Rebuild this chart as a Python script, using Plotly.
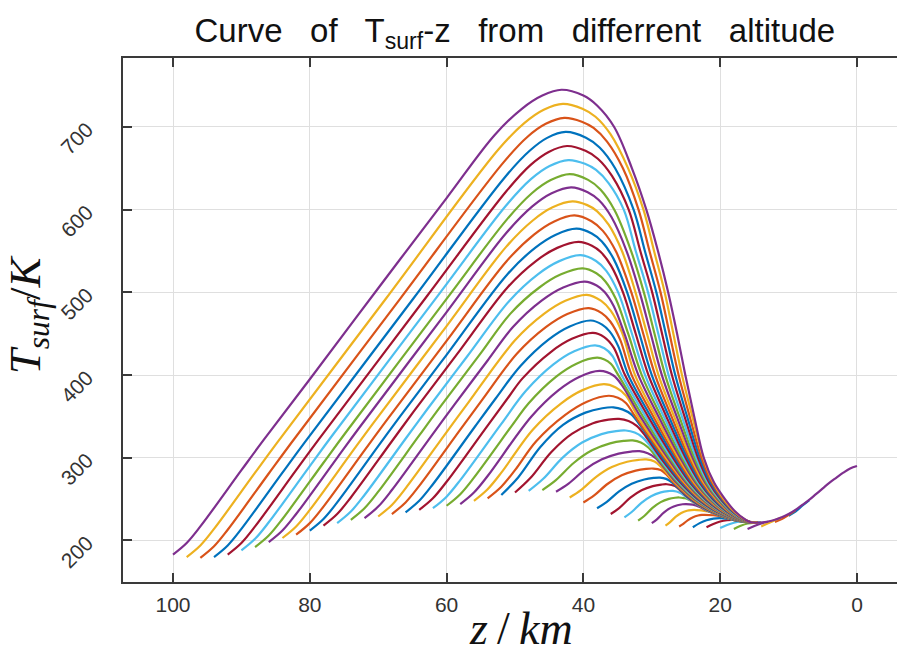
import plotly.graph_objects as go

# start altitude of every curve (km), outermost first
start_alt = [100, 98, 96, 94, 92, 90, 88, 86, 84, 82, 80, 78, 76, 74, 72, 70, 68, 66, 64, 62,
             60, 58, 56, 54, 52, 50, 48, 46, 44, 42, 40, 38, 36, 34, 32, 30, 28, 26, 24, 22,
             20, 18, 16, 14, 12, 10]

# altitude samples (km)
curve_z = [
    [100, 98, 96, 90, 86.8, 80, 70, 60, 53, 49, 46, 43.2, 40, 38, 35.5, 32.9, 30.8, 29.1, 27.6, 26.3, 25.1, 23.8, 22.4, 20.9, 19.3, 17.8, 16.3, 15.5, 14.5, 13, 12, 11, 10, 9, 8, 7, 6, 5, 4, 3, 2, 1, 0],
    [98, 96, 94, 88, 84.8, 68.8, 52.4, 48.6, 45.8, 43, 40.14, 38.23, 36.04, 33.46, 31.22, 29.67, 28.11, 26.85, 25.59, 24.08, 22.46, 21.0, 19.46, 17.91, 16.35, 15.5, 14.5],
    [96, 94, 92, 86, 82.8, 66.8, 51.8, 48.2, 45.5, 42.8, 40.23, 38.51, 36.54, 34.22, 31.94, 30.34, 28.72, 27.4, 26.08, 24.46, 22.72, 21.2, 19.62, 18.02, 16.4, 15.5, 14.5],
    [94, 92, 90, 84, 80.8, 64.8, 51.5, 47.9, 45.3, 42.6, 39.62, 37.63, 35.34, 32.66, 31.01, 29.33, 27.95, 26.57, 24.84, 22.98, 21.4, 19.78, 18.13, 16.45, 15.5, 14.5],
    [92, 90, 88, 82, 78.8, 62.8, 51.3, 47.75, 45.07, 42.4, 39.69, 37.89, 35.82, 33.38, 31.68, 29.94, 28.5, 27.06, 25.22, 23.24, 21.6, 19.94, 18.24, 16.5, 15.5, 14.5],
    [90, 88, 86, 80, 76.8, 60.8, 51.3, 47.67, 44.94, 42.2, 39.77, 38.15, 36.29, 34.1, 32.35, 30.55, 29.05, 27.55, 25.6, 23.5, 21.8, 20.1, 18.35, 16.55, 15.5, 14.5],
    [88, 86, 84, 78, 74.8, 60, 51.2, 47.54, 44.77, 42, 39.31, 37.51, 35.44, 33.02, 31.16, 29.6, 28.04, 25.98, 23.76, 22.0, 20.26, 18.46, 16.6, 15.5, 14.5],
    [86, 84, 82, 76, 72.8, 60, 51.25, 47.47, 44.64, 41.8, 39.37, 37.75, 35.88, 33.69, 31.77, 30.15, 28.53, 26.36, 24.02, 22.2, 20.42, 18.57, 16.65, 15.5, 14.5],
    [84, 82, 80, 74, 70.8, 60, 51.3, 47.4, 44.5, 41.6, 39.43, 37.98, 36.31, 34.36, 32.38, 30.7, 29.02, 26.74, 24.28, 22.4, 20.58, 18.68, 16.7, 15.5, 14.5],
    [82, 80, 78, 72, 68.8, 60, 51.2, 47.22, 44.26, 41.3, 38.81, 37.15, 35.23, 32.99, 31.25, 29.51, 27.12, 24.54, 22.6, 20.74, 18.79, 16.75, 15.5, 14.5],
    [80, 78, 76, 70, 66.8, 60, 51.1, 47.06, 44.03, 41, 38.78, 37.3, 35.6, 33.6, 31.8, 30.0, 27.5, 24.8, 22.8, 20.9, 18.9, 16.8, 15.5, 14.5],
    [78, 76, 74, 68, 64.8, 58, 51.1, 46.94, 43.82, 40.7, 38.75, 37.46, 35.96, 34.21, 32.35, 30.49, 27.88, 25.06, 23.0, 21.06, 19.01, 16.85, 15.5, 14.5],
    [76, 74, 72, 66, 62.8, 57, 50.8, 46.66, 43.53, 40.4, 38.15, 36.65, 34.93, 32.9, 30.98, 28.26, 25.32, 23.2, 21.22, 19.12, 16.9, 15.5, 14.5],
    [74, 72, 70, 64, 60.8, 55, 50.7, 46.44, 43.27, 40.1, 38.1, 36.78, 35.25, 33.45, 31.47, 28.64, 25.58, 23.4, 21.38, 19.23, 16.95, 15.5, 14.5],
    [72, 70, 68, 62, 58.8, 54, 50.3, 46.11, 42.95, 39.8, 38.06, 36.9, 35.57, 34.0, 31.96, 29.02, 25.84, 23.6, 21.54, 19.34, 17.0, 15.5, 14.5],
    [70, 68, 66, 60, 56.8, 50, 45.77, 42.64, 39.5, 37.39, 35.98, 34.35, 32.45, 29.4, 26.1, 23.8, 21.7, 19.45, 17.05, 15.5, 14.5],
    [68, 66, 64, 58, 54.8, 49.7, 45.49, 42.35, 39.2, 37.32, 36.07, 34.63, 32.94, 29.78, 26.36, 24.0, 21.86, 19.56, 17.1, 15.5, 14.5],
    [66, 64, 62, 56, 52.8, 49.2, 45.1, 42, 38.9, 37.26, 36.17, 34.91, 33.43, 30.16, 26.62, 24.2, 22.02, 19.67, 17.15, 15.5, 14.5],
    [64, 62, 60, 54, 50.8, 48.9, 44.77, 41.68, 38.6, 36.96, 35.56, 33.92, 30.54, 26.88, 24.4, 22.18, 19.78, 17.2, 15.5, 14.5],
    [62, 60, 58, 52, 48.4, 44.38, 41.34, 38.3, 36.94, 35.77, 34.41, 30.92, 27.14, 24.6, 22.34, 19.89, 17.25, 15.5, 14.5],
    [60, 58, 56, 50, 48, 44.02, 41.01, 38, 36.92, 35.99, 34.9, 31.3, 27.4, 24.8, 22.5, 20.0, 17.3, 15.5, 14.5],
    [58, 56, 54, 47.6, 43.62, 40.61, 37.6, 35.6, 34.2, 31.68, 27.66, 25.0, 22.66, 20.11, 17.35, 15.5, 14.5],
    [56, 54, 52, 47.4, 43.24, 40.12, 37.0, 35.27, 33.79, 32.06, 27.92, 25.2, 22.82, 20.22, 17.4, 15.5, 14.5],
    [54, 52, 50, 46.9, 42.65, 39.48, 36.3, 34.95, 33.79, 32.44, 28.18, 25.4, 22.98, 20.33, 17.45, 15.5, 14.5],
    [52, 49.54, 46.26, 42.98, 39.7, 37.24, 35.6, 34.3, 33.0, 31.6, 30.0, 28.44, 25.6, 23.14, 20.44, 17.5, 15.5, 14.5],
    [50, 47.72, 44.68, 41.64, 38.6, 36.32, 34.8, 33.4, 32.2, 30.9, 28.7, 25.8, 23.3, 20.55, 17.55, 15.5, 14.5],
    [48, 45.87, 43.03, 40.19, 37.35, 35.22, 33.8, 32.5, 31.4, 30.3, 28.96, 26.0, 23.46, 20.66, 17.6, 15.5, 14.5],
    [46, 44.02, 41.38, 38.74, 36.1, 34.12, 32.8, 31.6, 30.6, 29.22, 26.2, 23.62, 20.77, 17.65, 15.5, 14.5],
    [44, 42.17, 39.73, 37.29, 34.85, 33.02, 31.8, 30.6, 29.48, 28.1, 26.4, 23.78, 20.88, 17.7, 15.5, 14.5],
    [42, 40.32, 38.08, 35.84, 33.6, 31.92, 30.8, 29.6, 28.6, 26.6, 23.94, 20.99, 17.75, 15.5, 14.5],
    [40, 38.47, 36.43, 34.39, 32.35, 30.82, 29.8, 28.7, 27.9, 26.8, 24.1, 21.1, 17.8, 15.5, 14.5],
    [38, 36.62, 34.78, 32.94, 31.1, 29.72, 28.8, 27.9, 27.0, 24.26, 21.21, 17.85, 15.5, 14.5],
    [36, 34.77, 33.13, 31.49, 29.85, 28.62, 27.8, 26.6, 25.7, 24.42, 21.32, 17.9, 15.5, 14.5],
    [34, 32.94, 31.52, 30.1, 28.68, 27.61, 26.9, 25.9, 25.2, 24.58, 21.43, 17.95, 15.5, 14.5],
    [32, 31.1, 29.9, 28.7, 27.5, 26.6, 26, 25.3, 24.74, 21.54, 18.0, 15.5, 14.5],
    [30, 29.25, 28.25, 27.25, 26.25, 25.5, 25, 24, 23, 21.65, 18.05, 15.5, 14.5],
    [28, 27.37, 26.53, 25.69, 24.85, 24.22, 23.8, 22.8, 21.76, 18.1, 15.5, 14.5],
    [26, 25.45, 24.71, 23.97, 23.23, 22.67, 22.3, 21, 19.5, 18.15, 15.5, 14.5],
    [24, 23, 22, 21, 20, 19, 18, 17, 16, 15, 14.5],
    [22, 21, 20, 19, 18, 17, 16, 15, 14.5],
    [20, 19, 18, 17, 16, 15, 14.2],
    [18, 17, 16, 15, 14],
    [16, 15, 14, 13],
    [14, 13, 12, 11],
    [12, 11, 10, 9],
    [10, 9, 8, 7],
]

# surface temperature samples (K)
curve_T = [
    [183, 197, 217, 285, 321, 395, 505, 614, 690, 722, 738, 745, 738, 726, 700, 650, 600, 550, 500, 450, 400, 350, 300, 270, 250, 235, 225, 222, 221.5, 223, 225, 228, 232, 237, 243, 249, 256, 263, 270, 276, 282, 287, 290],
    [180, 194, 214, 282, 318, 493.2, 673, 704.9, 720.8, 728, 722.1, 712.4, 691.3, 650, 600, 550, 500, 450, 400, 350, 300, 270, 250, 235, 225, 222, 221.6],
    [179, 193, 213, 281, 317, 492.2, 656, 687.9, 703.8, 711, 706.4, 698.8, 682.3, 650, 600, 550, 500, 450, 400, 350, 300, 270, 250, 235, 225, 222, 221.6],
    [180, 194, 214, 282, 318, 493.2, 639, 670.9, 686.8, 694, 687, 675.2, 649.8, 600, 550, 500, 450, 400, 350, 300, 270, 250, 235, 225, 222, 221.6],
    [183, 197, 217, 285, 321, 496.2, 622, 653.9, 669.8, 677, 671.2, 661.6, 640.8, 600, 550, 500, 450, 400, 350, 300, 270, 250, 235, 225, 222, 221.6],
    [188, 202, 222, 290, 326, 501.2, 605, 636.9, 652.8, 660, 655.5, 648, 631.8, 600, 550, 500, 450, 400, 350, 300, 270, 250, 235, 225, 222, 221.6],
    [192, 206, 226, 294, 330, 492.1, 588, 619.9, 635.8, 643, 636, 624.4, 599.3, 550, 500, 450, 400, 350, 300, 270, 250, 235, 225, 222, 221.6],
    [198, 212, 232, 300, 336, 476.2, 572, 603.9, 619.8, 627, 621.2, 611.6, 590.8, 550, 500, 450, 400, 350, 300, 270, 250, 235, 225, 222, 221.6],
    [203, 217, 237, 305, 341, 459.3, 555, 586.9, 602.8, 610, 605.5, 598, 581.8, 550, 500, 450, 400, 350, 300, 270, 250, 235, 225, 222, 221.6],
    [207, 221, 241, 309, 345, 441.4, 538, 569.9, 585.8, 593, 586, 574.4, 549.3, 500, 450, 400, 350, 300, 270, 250, 235, 225, 222, 221.6],
    [212, 226, 246, 314, 350, 424.5, 522, 553.9, 569.8, 577, 571.2, 561.6, 540.8, 500, 450, 400, 350, 300, 270, 250, 235, 225, 222, 221.6],
    [218, 232, 252, 320, 356, 430.5, 506, 537.9, 553.8, 561, 556.4, 548.8, 532.3, 500, 450, 400, 350, 300, 270, 250, 235, 225, 222, 221.6],
    [221, 235, 255, 323, 359, 422.5, 490, 521.9, 537.8, 545, 537.9, 526, 500.3, 450, 400, 350, 300, 270, 250, 235, 225, 222, 221.6],
    [225, 239, 259, 327, 363, 426.5, 474, 505.9, 521.8, 529, 523.1, 513.2, 491.9, 450, 400, 350, 300, 270, 250, 235, 225, 222, 221.6],
    [227, 241, 261, 329, 365, 417.6, 458, 489.9, 505.8, 513, 508.3, 500.4, 483.4, 450, 400, 350, 300, 270, 250, 235, 225, 222, 221.6],
    [229, 243, 263, 331, 367, 442, 473.9, 489.8, 497, 489.7, 477.6, 451.4, 400, 350, 300, 270, 250, 235, 225, 222, 221.6],
    [232, 246, 266, 334, 370, 426, 457.9, 473.8, 481, 474.9, 464.8, 442.9, 400, 350, 300, 270, 250, 235, 225, 222, 221.6],
    [234, 248, 268, 336, 372, 411, 442.9, 458.8, 466, 461, 452.8, 435, 400, 350, 300, 270, 250, 235, 225, 222, 221.6],
    [237, 251, 271, 339, 375, 396, 427.9, 443.8, 451, 445.9, 433.1, 400, 350, 300, 270, 250, 235, 225, 222, 221.6],
    [239, 253, 273, 341, 381, 412.9, 428.8, 436, 432.4, 423.4, 400, 350, 300, 270, 250, 235, 225, 222, 221.6],
    [242, 256, 276, 344, 366, 397.9, 413.8, 421, 418.9, 413.7, 400, 350, 300, 270, 250, 235, 225, 222, 221.6],
    [244, 258, 278, 350, 381.9, 397.8, 405, 399.5, 385.8, 350, 300, 270, 250, 235, 225, 222, 221.6],
    [248, 262, 282, 334, 365.9, 381.8, 389, 385.1, 375.4, 350, 300, 270, 250, 235, 225, 222, 221.6],
    [251, 265, 285, 320, 351.9, 367.8, 375, 372.5, 366.3, 350, 300, 270, 250, 235, 225, 222, 221.6],
    [255, 276.2, 313.3, 339.8, 354.6, 359.9, 361, 358.5, 352.5, 338, 318.5, 300, 270, 250, 235, 225, 222, 221.6],
    [258, 275.8, 307, 329.2, 341.7, 346.1, 347, 344.5, 338.5, 326, 300, 270, 250, 235, 225, 222, 221.6],
    [260, 274.6, 300.2, 318.4, 328.6, 332.3, 333, 330.5, 325, 315, 300, 270, 250, 235, 225, 222, 221.6],
    [261, 273, 294, 309, 317.4, 320.4, 321, 318.5, 313, 300, 270, 250, 235, 225, 222, 221.6],
    [259, 268.8, 286, 298.2, 305.1, 307.5, 308, 305.5, 300, 287, 270, 250, 235, 225, 222, 221.6],
    [252, 261.2, 277.3, 288.8, 295.2, 297.5, 298, 295.5, 288.5, 270, 250, 235, 225, 222, 221.6],
    [246, 254.2, 268.6, 278.8, 284.5, 286.6, 287, 285.3, 280, 270, 250, 235, 225, 222, 221.6],
    [239, 246.4, 259.4, 268.6, 273.8, 275.6, 276, 274.5, 270, 250, 235, 225, 222, 221.6],
    [232, 239.2, 251.8, 260.8, 265.8, 267.6, 268, 265.8, 259.5, 250, 235, 225, 222, 221.6],
    [228, 234.4, 245.6, 253.6, 258.1, 259.7, 260, 257.8, 254, 250, 235, 225, 222, 221.6],
    [224, 229.6, 239.4, 246.4, 250.3, 251.7, 252, 251.2, 250, 235, 225, 222, 221.6],
    [221, 225.6, 233.7, 239.4, 242.6, 243.8, 244, 243.3, 240.5, 235, 225, 222, 221.6],
    [218, 221.8, 228.5, 233.2, 235.9, 236.8, 237, 236.3, 235, 225, 222, 221.6],
    [217, 219.8, 224.7, 228.2, 230.2, 230.9, 231, 230.5, 228.5, 225, 222, 221.6],
    [216, 221, 224.5, 226.5, 227, 226.3, 225, 223.5, 222.3, 221.8, 221.6],
    [216, 220, 223, 224.5, 224.8, 224, 222.7, 222, 221.6],
    [215, 218.8, 221.5, 222.8, 222.6, 222, 221.8],
    [214, 217.8, 220.5, 221.6, 221.8],
    [214, 217.5, 220.5, 222.6],
    [217, 220.8, 224.5, 227.8],
    [222.5, 226, 231, 236.5],
    [230, 235, 242, 248.5],
]

x_ticks = [0, 20, 40, 60, 80, 100]
y_ticks = [200, 300, 400, 500, 600, 700]
line_colors = ['#0072BD', '#D95319', '#EDB120', '#7E2F8E', '#77AC30', '#4DBEEE', '#A2142F']

fig = go.Figure()
n = len(curve_z)
# plotted from the lowest start altitude to the highest, colours cycling in that order
for j, idx in enumerate(range(n - 1, -1, -1)):
    fig.add_trace(go.Scatter(
        x=curve_z[idx], y=curve_T[idx], mode='lines',
        line=dict(color=line_colors[j % 7], width=2.2, shape='spline', smoothing=1.0),
        name=f'{start_alt[idx]} km', showlegend=False, hoverinfo='skip'))

axis_color = '#3a3a3a'
tick_font = dict(family='Liberation Sans, Arial, sans-serif', size=21, color='#333333')

fig.update_layout(
    width=897, height=655,
    margin=dict(l=123, r=0, t=58, b=73),
    paper_bgcolor='white', plot_bgcolor='white',
    title=dict(
        text='Curve&nbsp;&nbsp; of&nbsp;&nbsp; T<sub>surf</sub>-z&nbsp;&nbsp; from&nbsp;&nbsp; differrent&nbsp;&nbsp; altitude',
        x=0.574, xanchor='center', y=0.954, yanchor='middle', xref='container', yref='container',
        font=dict(family='Liberation Sans, Arial, sans-serif', size=33, color='#111111')),
    xaxis=dict(
        range=[107.31, -5.85], tickvals=x_ticks, ticks='inside', ticklen=9, tickwidth=1.5,
        tickcolor=axis_color, showline=True, linecolor=axis_color, linewidth=1.6,
        mirror='ticks', showgrid=True, gridcolor='#dfdfdf', gridwidth=1, zeroline=False,
        tickfont=tick_font, ticklabelstandoff=3),
    yaxis=dict(
        range=[149.8, 783.4], tickvals=y_ticks, ticks='inside', ticklen=9, tickwidth=1.5,
        tickcolor=axis_color, showline=True, linecolor=axis_color, linewidth=1.6,
        mirror=False, showgrid=True, gridcolor='#dfdfdf', gridwidth=1, zeroline=False,
        tickangle=-45, tickfont=tick_font, ticklabelstandoff=30),
    annotations=[
        dict(text='<i>T</i><sub><i>surf</i></sub>/<i>K</i>', xref='paper', yref='paper',
             x=-0.1235, y=0.51, xanchor='center', yanchor='middle', textangle=-90,
             showarrow=False, font=dict(family='Liberation Serif, serif', size=45, color='#111111')),
        dict(text='<i>z</i>&#8201;/&#8201;<i>km</i>', xref='paper', yref='paper',
             x=0.514, y=-0.088, xanchor='center', yanchor='middle',
             showarrow=False, font=dict(family='Liberation Serif, serif', size=46, color='#111111')),
    ],
)

fig.write_html('out.html')
